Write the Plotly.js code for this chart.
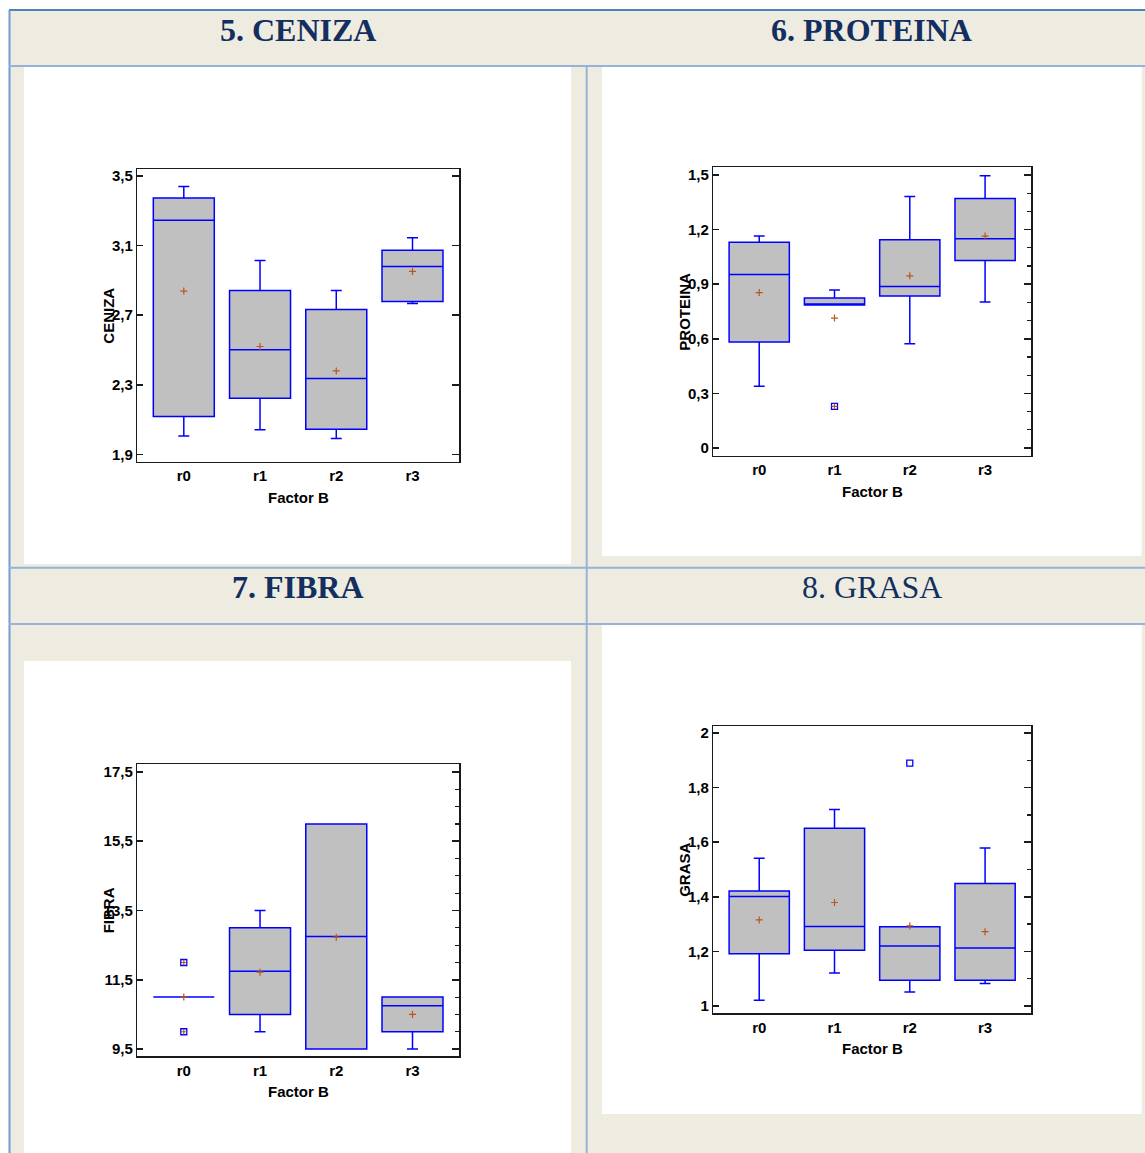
<!DOCTYPE html>
<html><head><meta charset="utf-8">
<script src="https://cdn.plot.ly/plotly-3.0.1.min.js"></script>
<style>html,body{margin:0;padding:0;background:#fff;overflow:hidden}#chart{width:1145px;height:1153px}</style>
</head><body><div id="chart"></div>
<script>
// ---------------- DATA ----------------
const categories = ['r0', 'r1', 'r2', 'r3'];
const factorLabel = 'Factor B';
const panelTitles = ['5. CENIZA', '6. PROTEINA', '7. FIBRA', '8. GRASA'];
const variableNames = ['CENIZA', 'PROTEINA', 'FIBRA', 'GRASA'];

const cenizaLower  = [2.007, 2.042, 1.992, 2.767];
const cenizaQ1     = [2.118, 2.223, 2.045, 2.778];
const cenizaMedian = [3.244, 2.501, 2.336, 2.979];
const cenizaQ3     = [3.372, 2.842, 2.733, 3.073];
const cenizaUpper  = [3.439, 3.014, 2.842, 3.144];
const cenizaMean   = [2.838, 2.520, 2.380, 2.951];
const cenizaOutCat = [];
const cenizaOutVal = [];
const cenizaOutFar = [];

const proteinaLower  = [0.340, 0.785, 0.573, 0.802];
const proteinaQ1     = [0.582, 0.785, 0.835, 1.030];
const proteinaMedian = [0.953, 0.790, 0.887, 1.149];
const proteinaQ3     = [1.131, 0.824, 1.144, 1.370];
const proteinaUpper  = [1.164, 0.868, 1.381, 1.496];
const proteinaMean   = [0.854, 0.714, 0.946, 1.164];
const proteinaOutCat = ['r1'];
const proteinaOutVal = [0.229];
const proteinaOutFar = [true];

const fibraLower  = [11.0, 10.0, 9.5, 9.5];
const fibraQ1     = [11.0, 10.5, 9.5, 10.0];
const fibraMedian = [11.0, 11.75, 12.75, 10.75];
const fibraQ3     = [11.0, 13.0, 16.0, 11.0];
const fibraUpper  = [11.0, 13.5, 16.0, 11.0];
const fibraMean   = [11.0, 11.72, 12.73, 10.5];
const fibraOutCat = ['r0', 'r0'];
const fibraOutVal = [12.0, 10.0];
const fibraOutFar = [true, true];

const grasaLower  = [1.021, 1.121, 1.051, 1.082];
const grasaQ1     = [1.191, 1.204, 1.094, 1.094];
const grasaMedian = [1.401, 1.291, 1.220, 1.212];
const grasaQ3     = [1.421, 1.651, 1.290, 1.449];
const grasaUpper  = [1.541, 1.720, 1.290, 1.579];
const grasaMean   = [1.315, 1.379, 1.293, 1.272];
const grasaOutCat = ['r2'];
const grasaOutVal = [1.890];
const grasaOutFar = [false];

// ---------------- LAYOUT HELPERS ----------------
const W = 1145, H = 1153;
const fx = p => p / W;
const fy = p => 1 - p / H;

const series = [
  {lo: cenizaLower, q1: cenizaQ1, med: cenizaMedian, q3: cenizaQ3, hi: cenizaUpper, mean: cenizaMean, oc: cenizaOutCat, ov: cenizaOutVal, of: cenizaOutFar},
  {lo: proteinaLower, q1: proteinaQ1, med: proteinaMedian, q3: proteinaQ3, hi: proteinaUpper, mean: proteinaMean, oc: proteinaOutCat, ov: proteinaOutVal, of: proteinaOutFar},
  {lo: fibraLower, q1: fibraQ1, med: fibraMedian, q3: fibraQ3, hi: fibraUpper, mean: fibraMean, oc: fibraOutCat, ov: fibraOutVal, of: fibraOutFar},
  {lo: grasaLower, q1: grasaQ1, med: grasaMedian, q3: grasaQ3, hi: grasaUpper, mean: grasaMean, oc: grasaOutCat, ov: grasaOutVal, of: grasaOutFar}
];

// plot-area pixel boxes (style/position only)
const boxesPx = [
  {l: 137.3, r: 459, t: 169.3, b: 461.5},
  {l: 713.3, r: 1031, t: 167.3, b: 455.5},
  {l: 137.3, r: 459, t: 764, b: 1056},
  {l: 713.3, r: 1031, t: 726, b: 1013}
];
const yRanges = [[1.86, 3.537], [-0.041, 1.542], [9.30, 17.73], [0.974, 2.026]];
const yTick0 = [1.9, 0, 9.5, 1];
const yDtick = [0.4, 0.3, 2, 0.2];
const yMinor = [0.4, 0.1, 0.5, 0.1];

const tickFont = {family: 'Liberation Sans, Arial, sans-serif', size: 15, color: '#000', weight: 700};
const lineCol = '#1a1a1a';

const data = [];
const layout = {
  width: W, height: H, autosize: false,
  margin: {l: 0, r: 0, t: 0, b: 0, pad: 0},
  paper_bgcolor: '#ffffff', plot_bgcolor: 'rgba(0,0,0,0)',
  showlegend: false, separators: ',.',
  shapes: [], annotations: []
};

series.forEach((s, i) => {
  const n = i + 1;
  const xa = n === 1 ? 'x' : 'x' + n;
  const ya = n === 1 ? 'y' : 'y' + n;
  const yr = 'y' + (n + 4);
  const bx = boxesPx[i];
  const xdom = [fx(bx.l), fx(bx.r)];
  const ydom = [fy(bx.b), fy(bx.t)];

  layout['xaxis' + (n === 1 ? '' : n)] = {
    domain: xdom, anchor: ya, type: 'category', categoryorder: 'array', categoryarray: categories,
    range: [-0.61, 3.61], showline: true, mirror: true, linecolor: lineCol, linewidth: 1.5,
    ticks: '', showgrid: false, zeroline: false, tickfont: tickFont, ticklabelstandoff: 0, fixedrange: true
  };
  layout['yaxis' + (n === 1 ? '' : n)] = {
    domain: ydom, anchor: xa, range: yRanges[i], tickmode: 'linear', tick0: yTick0[i], dtick: yDtick[i],
    showline: true, linecolor: lineCol, linewidth: 1.5, ticks: 'inside', ticklen: 6, tickwidth: 1.5, tickcolor: lineCol,
    showgrid: false, zeroline: false, tickfont: tickFont, fixedrange: true
  };
  layout['yaxis' + (n + 4)] = {
    overlaying: ya, anchor: xa, side: 'right', range: yRanges[i], tickmode: 'linear', tick0: yTick0[i], dtick: yDtick[i],
    showline: true, linecolor: lineCol, linewidth: 1.5, ticks: 'inside', ticklen: 7, tickwidth: 1.5, tickcolor: lineCol,
    minor: {ticks: 'inside', ticklen: 4, tickwidth: 1.2, tickcolor: lineCol, tick0: yTick0[i], dtick: yMinor[i], showgrid: false},
    showticklabels: false, showgrid: false, zeroline: false, fixedrange: true
  };

  data.push({x: [], y: [], type: 'scatter', mode: 'markers', xaxis: xa, yaxis: yr, hoverinfo: 'skip'});

  data.push({
    type: 'box', x: categories, q1: s.q1, median: s.med, q3: s.q3, lowerfence: s.lo, upperfence: s.hi,
    xaxis: xa, yaxis: ya, fillcolor: '#c0c0c0', line: {color: '#0000ff', width: 1.5},
    whiskerwidth: 0.18, width: 0.8, boxpoints: false, hoverinfo: 'skip'
  });
  data.push({
    type: 'scatter', mode: 'markers', x: categories, y: s.mean, xaxis: xa, yaxis: ya, hoverinfo: 'skip',
    marker: {symbol: 'cross-thin', size: 5, line: {color: '#b8561c', width: 1.2}}
  });
  if (s.ov.length) {
    data.push({
      type: 'scatter', mode: 'markers', x: s.oc, y: s.ov, xaxis: xa, yaxis: ya, hoverinfo: 'skip',
      marker: {symbol: 'square-open', size: 6, color: '#0000ff', line: {width: 1.3, color: '#0000ff'}}
    });
    const fc = s.oc.filter((c, k) => s.of[k]);
    const fv = s.ov.filter((v, k) => s.of[k]);
    if (fv.length) {
      data.push({
        type: 'scatter', mode: 'markers', x: fc, y: fv, xaxis: xa, yaxis: ya, hoverinfo: 'skip',
        marker: {symbol: 'cross-thin', size: 4, line: {color: '#b8561c', width: 1.2}}
      });
    }
  }

  // axis titles
  const axFont = {family: 'Liberation Sans, Arial, sans-serif', size: 15, color: '#000', weight: 700};
  layout.annotations.push({
    text: variableNames[i], textangle: -90, xref: 'paper', yref: 'paper',
    x: fx(bx.l - 29), y: fy((bx.t + bx.b) / 2), xanchor: 'center', yanchor: 'middle', showarrow: false, font: axFont
  });
  layout.annotations.push({
    text: factorLabel, xref: 'paper', yref: 'paper',
    x: fx((bx.l + bx.r) / 2), y: fy(bx.b + 35.5), xanchor: 'center', yanchor: 'middle', showarrow: false, font: axFont
  });
});

// table decoration
function rect(x0, y0, x1, y1, fill) {
  return {type: 'rect', xref: 'paper', yref: 'paper', x0: fx(x0), x1: fx(x1), y0: fy(y1), y1: fy(y0),
    fillcolor: fill, line: {width: 0}, layer: 'below'};
}
function line(x0, y0, x1, y1, color, w) {
  return {type: 'line', xref: 'paper', yref: 'paper', x0: fx(x0), x1: fx(x1), y0: fy(y0), y1: fy(y1),
    line: {color: color, width: w}, layer: 'below'};
}
const beige = '#eeece1';
layout.shapes.push(rect(9, 10, 1145, 1153, beige));
layout.shapes.push(rect(24, 66.5, 571, 564, '#ffffff'));
layout.shapes.push(rect(602, 66.5, 1141.7, 556, '#ffffff'));
layout.shapes.push(rect(24, 661, 571, 1153, '#ffffff'));
layout.shapes.push(rect(602, 625, 1141.7, 1114, '#ffffff'));
layout.shapes.push(line(9, 10, 1145, 10, '#4f81bd', 2));
layout.shapes.push(line(9.5, 10, 9.5, 1153, '#6f9bd1', 2));
layout.shapes.push(line(9, 66, 1145, 66, '#95b3d7', 2));
layout.shapes.push(line(9, 567.7, 1145, 567.7, '#95b3d7', 2));
layout.shapes.push(line(9, 624, 1145, 624, '#95b3d7', 2));
layout.shapes.push(line(586.7, 66, 586.7, 1153, '#95b3d7', 2));

// panel headers
const headerCenters = [[297.5, 29.5, true], [871.5, 29.5, true], [297.5, 586.7, true], [871.5, 586.7, false]];
panelTitles.forEach((t, i) => {
  const hc = headerCenters[i];
  layout.annotations.push({
    text: t, xref: 'paper', yref: 'paper', x: fx(hc[0]), y: fy(hc[1]), xanchor: 'center', yanchor: 'middle',
    showarrow: false,
    font: {family: 'Liberation Serif, Times New Roman, serif', size: 32, color: '#132f60', weight: hc[2] ? 700 : 400}
  });
});

Plotly.newPlot('chart', data, layout, {staticPlot: true, displayModeBar: false});
</script>
</body></html>
